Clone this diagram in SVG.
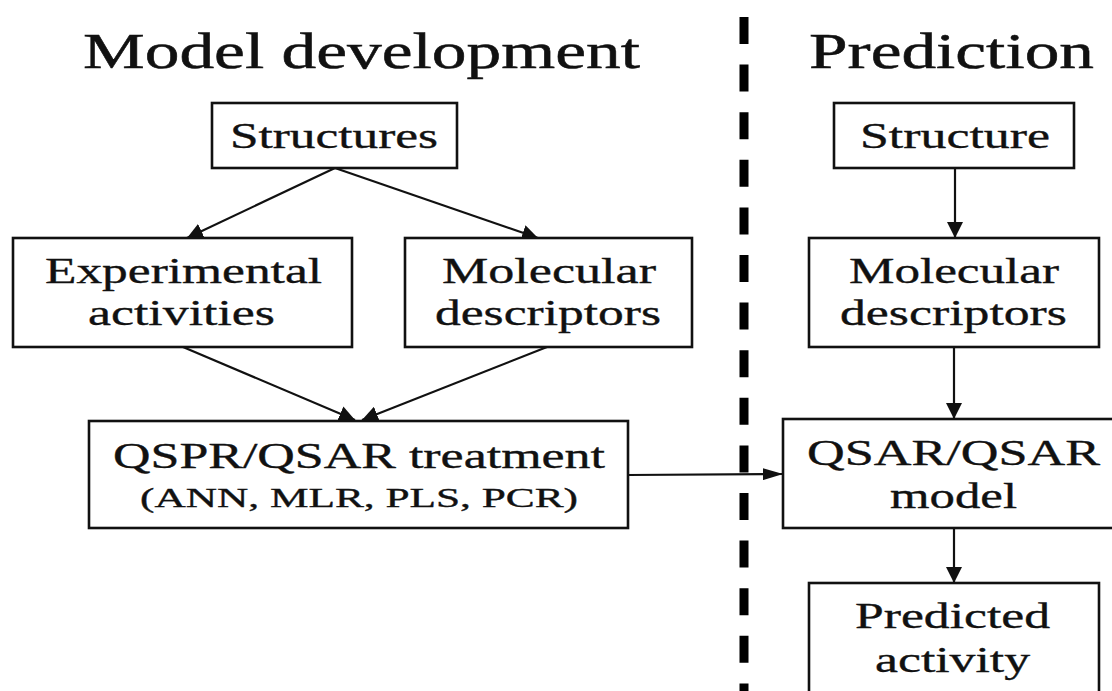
<svg xmlns="http://www.w3.org/2000/svg" width="1112" height="691" viewBox="0 0 1112 691">
<style>
  text { font-family: "Liberation Serif", "Times New Roman", serif; fill: #111; stroke: #111; stroke-width: 0.35; }
  .title { font-size: 50px; stroke-width: 0.5; }
  .lbl { font-size: 36px; text-anchor: middle; }
  .sub { font-size: 27px; text-anchor: middle; }
  .box { fill: #fff; stroke: #111; stroke-width: 2.6; }
  .conn { stroke: #111; stroke-width: 2.2; fill: none; }
  .divider { stroke: #000; stroke-width: 9; stroke-dasharray: 27 20.6; fill: none; }
</style>
<defs>
  <marker id="ah" viewBox="0 0 16 16" refX="16" refY="8" markerWidth="16" markerHeight="16" markerUnits="userSpaceOnUse" orient="auto">
    <path d="M0,0 L16,8 L0,16 z" fill="#111"/>
  </marker>
  <marker id="ahs" viewBox="0 0 20 12" refX="20" refY="6" markerWidth="20" markerHeight="12" markerUnits="userSpaceOnUse" orient="auto">
    <path d="M0,0 L20,6 L0,12 z" fill="#111"/>
  </marker>
</defs>
<rect x="0" y="0" width="1112" height="691" fill="#fff"/>

<g id="titles">
  <text class="title" x="83" y="68" textLength="557" lengthAdjust="spacingAndGlyphs">Model development</text>
  <text class="title" x="809" y="68" textLength="285" lengthAdjust="spacingAndGlyphs">Prediction</text>
</g>

<g id="divider">
  <line class="divider" x1="744" y1="17" x2="744" y2="700"/>
</g>

<g id="connectors">
  <line class="conn" x1="335" y1="168" x2="187" y2="238" marker-end="url(#ah)"/>
  <line class="conn" x1="335" y1="168" x2="538" y2="238" marker-end="url(#ah)"/>
  <line class="conn" x1="183" y1="347" x2="355" y2="420" marker-end="url(#ah)"/>
  <line class="conn" x1="547" y1="347" x2="362" y2="420" marker-end="url(#ah)"/>
  <line class="conn" x1="628" y1="475" x2="783" y2="474" marker-end="url(#ahs)"/>
  <line class="conn" x1="955" y1="168" x2="955" y2="238" marker-end="url(#ah)"/>
  <line class="conn" x1="954" y1="347" x2="954" y2="419" marker-end="url(#ah)"/>
  <line class="conn" x1="954" y1="528" x2="954" y2="583" marker-end="url(#ah)"/>
</g>

<g id="structures">
  <rect class="box" x="212" y="103" width="245" height="65"/>
  <text class="lbl" x="334" y="148" textLength="208" lengthAdjust="spacingAndGlyphs">Structures</text>
</g>

<g id="experimental">
  <rect class="box" x="13" y="238" width="339" height="109"/>
  <text class="lbl" x="183.5" y="283" textLength="277" lengthAdjust="spacingAndGlyphs">Experimental</text>
  <text class="lbl" x="181.5" y="325" textLength="187" lengthAdjust="spacingAndGlyphs">activities</text>
</g>

<g id="molecular-left">
  <rect class="box" x="405" y="238" width="287" height="109"/>
  <text class="lbl" x="549" y="283" textLength="214" lengthAdjust="spacingAndGlyphs">Molecular</text>
  <text class="lbl" x="548" y="325" textLength="226" lengthAdjust="spacingAndGlyphs">descriptors</text>
</g>

<g id="qspr">
  <rect class="box" x="89" y="421" width="539" height="107"/>
  <text class="lbl" x="359" y="468" textLength="492" lengthAdjust="spacingAndGlyphs">QSPR/QSAR treatment</text>
  <text class="sub" x="359" y="507" textLength="438" lengthAdjust="spacingAndGlyphs">(ANN, MLR, PLS, PCR)</text>
</g>

<g id="structure">
  <rect class="box" x="834" y="103" width="240" height="65"/>
  <text class="lbl" x="955" y="148" textLength="190" lengthAdjust="spacingAndGlyphs">Structure</text>
</g>

<g id="molecular-right">
  <rect class="box" x="809" y="238" width="290" height="109"/>
  <text class="lbl" x="954" y="283" textLength="210" lengthAdjust="spacingAndGlyphs">Molecular</text>
  <text class="lbl" x="953.5" y="325" textLength="227" lengthAdjust="spacingAndGlyphs">descriptors</text>
</g>

<g id="qsar-model">
  <rect class="box" x="783" y="419" width="340" height="109"/>
  <text class="lbl" x="953.5" y="465" textLength="293" lengthAdjust="spacingAndGlyphs">QSAR/QSAR</text>
  <text class="lbl" x="953.5" y="508" textLength="127" lengthAdjust="spacingAndGlyphs">model</text>
</g>

<g id="predicted">
  <rect class="box" x="809" y="583" width="290" height="120"/>
  <text class="lbl" x="952.5" y="628" textLength="195" lengthAdjust="spacingAndGlyphs">Predicted</text>
  <text class="lbl" x="952.5" y="672" textLength="155" lengthAdjust="spacingAndGlyphs">activity</text>
</g>
</svg>
